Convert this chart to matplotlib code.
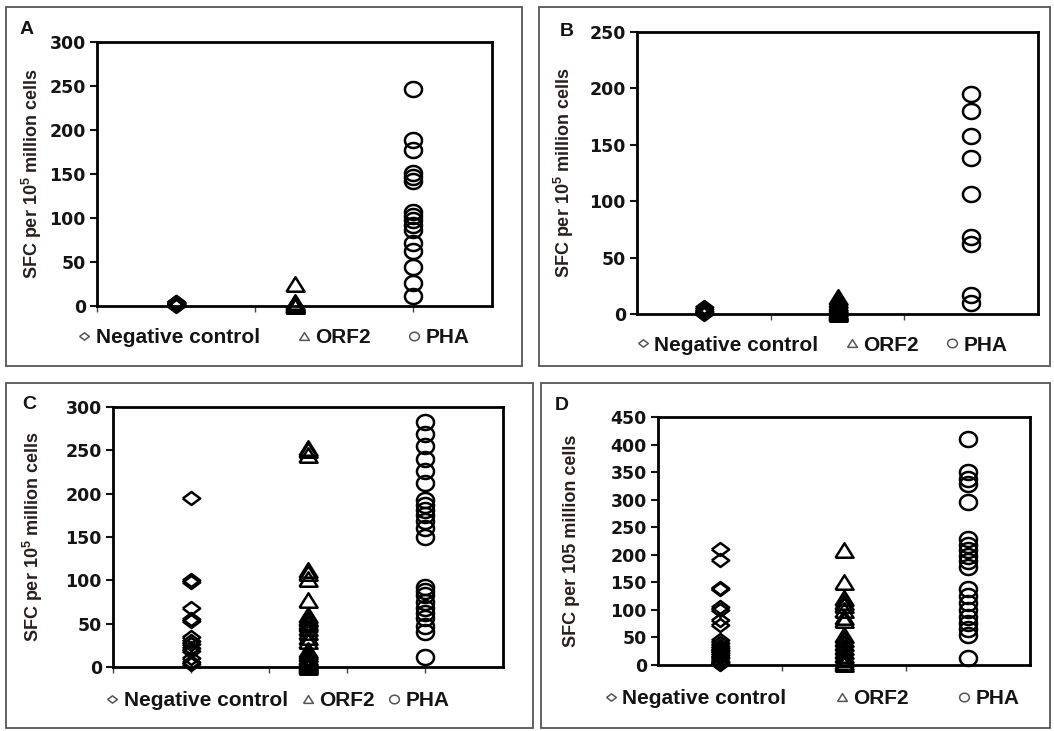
import matplotlib
matplotlib.use("Agg")
import matplotlib.pyplot as plt
from matplotlib.patches import Rectangle
from matplotlib.lines import Line2D
import numpy as np

plt.rcParams['font.family'] = ['Liberation Sans', 'DejaVu Sans']
plt.rcParams['mathtext.fontset'] = 'custom'
plt.rcParams['mathtext.rm'] = 'Liberation Sans'
plt.rcParams['mathtext.bf'] = 'Liberation Sans:bold'

groups = ['Negative control', 'ORF2', 'PHA']
group_x = [1, 2, 3]

# values (SFC per 10^5 million cells)
A_neg = [0, 1, 2, 3, 4, 5, 2, 3]
A_orf2 = [25, 0, 1, 2, 3, 5, 0]
A_pha = [247, 189, 177, 151, 147, 142, 107, 102, 98, 92, 86, 72, 63, 44, 26, 11]

B_neg = [0, 2, 4, 6, 1, 3]
B_orf2 = [0, 1, 2, 3, 4, 6, 8, 10, 12, 15]
B_pha = [195, 180, 158, 138, 106, 68, 62, 17, 10]

C_neg = [195, 100, 98, 68, 55, 53, 35, 30, 27, 22, 18, 10, 6, 3]
C_orf2 = [253, 250, 245, 112, 108, 102, 77, 60, 57, 55, 52, 50, 45, 40, 35, 30,
          20, 17, 15, 12, 10, 8, 6, 5, 4, 2, 1, 0]
C_pha = [283, 269, 255, 240, 226, 212, 193, 187, 181, 175, 168, 160, 150,
         92, 88, 83, 75, 68, 62, 56, 47, 40, 12]

D_neg = [210, 190, 140, 138, 106, 100, 82, 73, 45, 40, 35, 30, 28, 25, 22,
         18, 15, 12, 8, 6, 4, 2]
D_orf2 = [208, 150, 122, 115, 108, 100, 88, 82, 55, 48, 40, 32, 25, 18, 10, 5, 2]
D_pha = [410, 350, 338, 328, 295, 228, 218, 208, 198, 188, 178, 138, 125,
         112, 100, 88, 76, 65, 55, 12]

ylab_sup = r'SFC per 10$^\mathbf{5}$ million cells'
ylab_D = 'SFC per 105 million cells'

# slightly wide markers (the figure is stretched sideways)
diamond = [(-1, 0), (0, 0.75), (1, 0), (0, -0.75), (-1, 0)]
triangle = [(-1, -0.8), (0, 0.8), (1, -0.8), (-1, -0.8)]
t = np.linspace(0, 2 * np.pi, 41)
circle = list(zip(np.cos(t), 0.88 * np.sin(t)))
markers = [(diamond, 12.5), (triangle, 13), (circle, 12.3)]

W, H = 1054, 731
fig = plt.figure(figsize=(W / 100, H / 100), dpi=100)
txt = '#141414'


def px_axes(l, t_, r, b):
    return fig.add_axes([l / W, 1 - b / H, (r - l) / W, (b - t_) / H])


def frame(l, t_, r, b):
    fig.add_artist(Rectangle((l / W, 1 - b / H), (r - l) / W, (b - t_) / H,
                             transform=fig.transFigure, fill=False,
                             ec='#555555', lw=1.3))


def panel(box, rect, letter, letter_xy, data, ymax, ystep, xlim, xticks,
          ylabel, ylab_x, leg_x, leg_y, colsp):
    frame(*box)
    ax = px_axes(*rect)
    for vals, xpos, (m, ms) in zip(data, group_x, markers):
        ax.plot([xpos] * len(vals), vals, linestyle='none', marker=m,
                markersize=ms, markerfacecolor='none', markeredgecolor='black',
                markeredgewidth=1.8, clip_on=False, zorder=3)
    ax.set_xlim(*xlim)
    ax.set_ylim(0, ymax)
    ax.set_yticks(np.arange(0, ymax + 1, ystep))
    ax.set_xticks(xticks)
    ax.set_xticklabels([])
    ax.tick_params(axis='y', direction='out', length=5, width=1.5,
                   labelsize=12.5, pad=3, colors=txt)
    ax.tick_params(axis='x', direction='out', length=4, width=1, colors='#444444')
    for lab in ax.get_yticklabels():
        lab.set_fontweight('bold')
        lab.set_family('DejaVu Sans')
    for s in ax.spines.values():
        s.set_linewidth(2)
        s.set_color('black')
    ax.set_ylabel(ylabel, fontsize=13, fontweight='bold', color='#2a1f1a')
    ax.yaxis.set_label_coords(ylab_x, 0.5)
    fig.text(letter_xy[0] / W, 1 - letter_xy[1] / H, letter, fontsize=14,
             fontweight='bold', color=txt, ha='left', va='center')
    handles = [Line2D([], [], linestyle='none', marker=m, markersize=7,
                      markerfacecolor='none', markeredgecolor='#555555',
                      markeredgewidth=1.1) for m, _ in markers]
    leg = ax.legend(handles, groups, ncol=3, loc='center',
                    bbox_to_anchor=(leg_x, leg_y), frameon=False,
                    prop={'size': 15, 'weight': 'bold'}, handlelength=0.6,
                    handletextpad=0.25, columnspacing=colsp, borderpad=0)
    for tx in leg.get_texts():
        tx.set_color(txt)
    return ax


panel((6, 7, 522, 366), (97, 42, 492, 306), 'A', (20, 29),
      [A_neg, A_orf2, A_pha], 300, 50, (1 / 3, 11 / 3), [1 / 3, 5 / 3, 3],
      ylab_sup, -0.135, 0.448, -0.12, 1.8)
panel((539, 7, 1050, 366), (637, 32, 1038, 314), 'B', (560, 32),
      [B_neg, B_orf2, B_pha], 250, 50, (0.5, 3.5), [1.5, 2.5],
      ylab_sup, -0.152, 0.461, -0.11, 1.3)
panel((6, 383, 533, 728), (113, 407, 503, 667), 'C', (22, 404),
      [C_neg, C_orf2, C_pha], 300, 50, (1 / 3, 11 / 3),
      [1 / 3, 1, 5 / 3, 7 / 3, 3],
      ylab_sup, -0.174, 0.423, -0.13, 0.65)
panel((541, 383, 1050, 728), (658, 417, 1030, 665), 'D', (555, 406),
      [D_neg, D_orf2, D_pha], 450, 50, (0.5, 3.5), [1.5, 2.5],
      ylab_D, -0.21, 0.414, -0.135, 2.35)

fig.savefig('out.png', dpi=100, facecolor='white')
